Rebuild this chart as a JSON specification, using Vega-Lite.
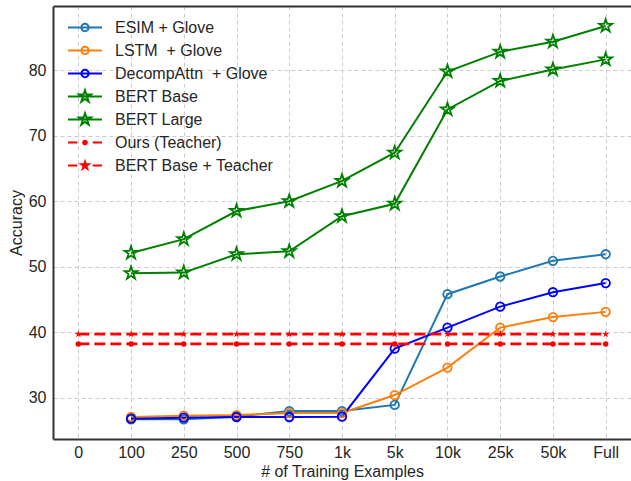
{
  "$schema": "https://vega.github.io/schema/vega-lite/v6.json",
  "autosize": "none",
  "width": 578,
  "height": 433,
  "padding": {"left": 53, "top": 6, "right": 0, "bottom": 42},
  "background": "white",
  "config": {
    "font": "Liberation Sans",
    "view": {"stroke": null},
    "axis": {
      "labelFont": "Liberation Sans",
      "titleFont": "Liberation Sans",
      "labelFontSize": 16,
      "titleFontSize": 16,
      "titleFontWeight": "normal",
      "labelColor": "#262626",
      "titleColor": "#262626",
      "ticks": false,
      "domainColor": "#333333",
      "domainWidth": 2,
      "gridColor": "#cccccc",
      "gridDash": [4, 3],
      "gridWidth": 1
    },
    "legend": {
      "orient": "none",
      "legendX": 14,
      "legendY": 10,
      "padding": 0,
      "clipHeight": 23,
      "rowPadding": 0,
      "symbolSize": 1156,
      "symbolStrokeWidth": 2,
      "labelOffset": 12,
      "labelFont": "Liberation Sans",
      "labelFontSize": 16,
      "labelColor": "#262626",
      "labelLimit": 400
    }
  },
  "data": {
    "values": [
      {"model": "ESIM + Glove", "x": "100", "acc": 26.7},
      {"model": "ESIM + Glove", "x": "250", "acc": 26.7},
      {"model": "ESIM + Glove", "x": "500", "acc": 27.1},
      {"model": "ESIM + Glove", "x": "750", "acc": 27.95},
      {"model": "ESIM + Glove", "x": "1k", "acc": 27.95},
      {"model": "ESIM + Glove", "x": "5k", "acc": 28.9},
      {"model": "ESIM + Glove", "x": "10k", "acc": 45.8},
      {"model": "ESIM + Glove", "x": "25k", "acc": 48.5},
      {"model": "ESIM + Glove", "x": "50k", "acc": 50.9},
      {"model": "ESIM + Glove", "x": "Full", "acc": 51.9},
      {"model": "LSTM \u00a0+ Glove", "x": "100", "acc": 27.05},
      {"model": "LSTM \u00a0+ Glove", "x": "250", "acc": 27.25},
      {"model": "LSTM \u00a0+ Glove", "x": "500", "acc": 27.35},
      {"model": "LSTM \u00a0+ Glove", "x": "750", "acc": 27.65},
      {"model": "LSTM \u00a0+ Glove", "x": "1k", "acc": 27.65},
      {"model": "LSTM \u00a0+ Glove", "x": "5k", "acc": 30.4},
      {"model": "LSTM \u00a0+ Glove", "x": "10k", "acc": 34.6},
      {"model": "LSTM \u00a0+ Glove", "x": "25k", "acc": 40.7},
      {"model": "LSTM \u00a0+ Glove", "x": "50k", "acc": 42.3},
      {"model": "LSTM \u00a0+ Glove", "x": "Full", "acc": 43.1},
      {"model": "DecompAttn \u00a0+ Glove", "x": "100", "acc": 26.8},
      {"model": "DecompAttn \u00a0+ Glove", "x": "250", "acc": 26.95},
      {"model": "DecompAttn \u00a0+ Glove", "x": "500", "acc": 27.05},
      {"model": "DecompAttn \u00a0+ Glove", "x": "750", "acc": 27.05},
      {"model": "DecompAttn \u00a0+ Glove", "x": "1k", "acc": 27.1},
      {"model": "DecompAttn \u00a0+ Glove", "x": "5k", "acc": 37.5},
      {"model": "DecompAttn \u00a0+ Glove", "x": "10k", "acc": 40.7},
      {"model": "DecompAttn \u00a0+ Glove", "x": "25k", "acc": 43.9},
      {"model": "DecompAttn \u00a0+ Glove", "x": "50k", "acc": 46.1},
      {"model": "DecompAttn \u00a0+ Glove", "x": "Full", "acc": 47.5},
      {"model": "BERT Base", "x": "100", "acc": 49.0},
      {"model": "BERT Base", "x": "250", "acc": 49.1},
      {"model": "BERT Base", "x": "500", "acc": 51.9},
      {"model": "BERT Base", "x": "750", "acc": 52.35},
      {"model": "BERT Base", "x": "1k", "acc": 57.7},
      {"model": "BERT Base", "x": "5k", "acc": 59.6},
      {"model": "BERT Base", "x": "10k", "acc": 74.0},
      {"model": "BERT Base", "x": "25k", "acc": 78.35},
      {"model": "BERT Base", "x": "50k", "acc": 80.1},
      {"model": "BERT Base", "x": "Full", "acc": 81.65},
      {"model": "BERT Large", "x": "100", "acc": 52.1},
      {"model": "BERT Large", "x": "250", "acc": 54.2},
      {"model": "BERT Large", "x": "500", "acc": 58.5},
      {"model": "BERT Large", "x": "750", "acc": 60.0},
      {"model": "BERT Large", "x": "1k", "acc": 63.1},
      {"model": "BERT Large", "x": "5k", "acc": 67.4},
      {"model": "BERT Large", "x": "10k", "acc": 79.8},
      {"model": "BERT Large", "x": "25k", "acc": 82.8},
      {"model": "BERT Large", "x": "50k", "acc": 84.35},
      {"model": "BERT Large", "x": "Full", "acc": 86.75},
      {"model": "Ours (Teacher)", "x": "0", "acc": 38.2},
      {"model": "Ours (Teacher)", "x": "100", "acc": 38.2},
      {"model": "Ours (Teacher)", "x": "250", "acc": 38.2},
      {"model": "Ours (Teacher)", "x": "500", "acc": 38.2},
      {"model": "Ours (Teacher)", "x": "750", "acc": 38.2},
      {"model": "Ours (Teacher)", "x": "1k", "acc": 38.2},
      {"model": "Ours (Teacher)", "x": "5k", "acc": 38.2},
      {"model": "Ours (Teacher)", "x": "10k", "acc": 38.2},
      {"model": "Ours (Teacher)", "x": "25k", "acc": 38.2},
      {"model": "Ours (Teacher)", "x": "50k", "acc": 38.2},
      {"model": "Ours (Teacher)", "x": "Full", "acc": 38.2},
      {"model": "BERT Base + Teacher", "x": "0", "acc": 39.7},
      {"model": "BERT Base + Teacher", "x": "100", "acc": 39.7},
      {"model": "BERT Base + Teacher", "x": "250", "acc": 39.7},
      {"model": "BERT Base + Teacher", "x": "500", "acc": 39.7},
      {"model": "BERT Base + Teacher", "x": "750", "acc": 39.7},
      {"model": "BERT Base + Teacher", "x": "1k", "acc": 39.7},
      {"model": "BERT Base + Teacher", "x": "5k", "acc": 39.7},
      {"model": "BERT Base + Teacher", "x": "10k", "acc": 39.7},
      {"model": "BERT Base + Teacher", "x": "25k", "acc": 39.7},
      {"model": "BERT Base + Teacher", "x": "50k", "acc": 39.7},
      {"model": "BERT Base + Teacher", "x": "Full", "acc": 39.7}
    ]
  },
  "resolve": {"axis": {"x": "independent"}},
  "layer": [
    {
      "encoding": {
        "x": {
          "field": "x", "type": "ordinal",
          "scale": {"type": "point", "domain": ["0","100","250","500","750","1k","5k","10k","25k","50k","Full"], "padding": 0.48},
          "axis": {"orient": "bottom", "labelAngle": 0, "labelPadding": 5, "title": "# of Training Examples", "titlePadding": 3, "grid": true, "domain": true}
        },
        "y": {
          "field": "acc", "type": "quantitative",
          "scale": {"domain": [23.69, 89.8], "nice": false, "zero": false},
          "axis": {"values": [30, 40, 50, 60, 70, 80], "title": "Accuracy", "labelPadding": 7, "titlePadding": 4, "grid": true, "domain": true}
        }
      },
      "layer": [
        {
          "transform": [{"filter": "datum.model != 'Ours (Teacher)' && datum.model != 'BERT Base + Teacher'"}],
          "mark": {"type": "line", "strokeWidth": 2},
          "encoding": {
            "color": {"field": "model", "type": "nominal", "legend": null,
              "scale": {"domain": ["ESIM + Glove", "LSTM \u00a0+ Glove", "DecompAttn \u00a0+ Glove", "BERT Base", "BERT Large"],
                        "range": ["#1f77b4", "#ff7f0e", "#0000ff", "#008000", "#008000"]}}
          }
        },
        {
          "transform": [{"filter": "datum.model == 'ESIM + Glove' || datum.model == 'LSTM \u00a0+ Glove' || datum.model == 'DecompAttn \u00a0+ Glove'"}],
          "mark": {"type": "point", "shape": "circle", "filled": false, "size": 72, "strokeWidth": 1.8, "opacity": 1},
          "encoding": {
            "color": {"field": "model", "type": "nominal", "legend": null,
              "scale": {"domain": ["ESIM + Glove", "LSTM \u00a0+ Glove", "DecompAttn \u00a0+ Glove", "BERT Base", "BERT Large"],
                        "range": ["#1f77b4", "#ff7f0e", "#0000ff", "#008000", "#008000"]}}
          }
        },
        {
          "transform": [{"filter": "datum.model == 'BERT Base' || datum.model == 'BERT Large'"}],
          "mark": {"type": "point", "shape": "M0,-1L0.2245,-0.309L0.951,-0.309L0.363,0.118L0.588,0.809L0,0.382L-0.588,0.809L-0.363,0.118L-0.951,-0.309L-0.2245,-0.309Z", "filled": false, "size": 185, "strokeWidth": 1.8, "color": "#008000", "opacity": 1}
        },
        {
          "transform": [{"filter": "datum.model == 'Ours (Teacher)' || datum.model == 'BERT Base + Teacher'"}],
          "mark": {"type": "line", "strokeWidth": 2.8, "strokeDash": [11, 5], "color": "#ff0000"},
          "encoding": {"detail": {"field": "model", "type": "nominal"}}
        },
        {
          "transform": [{"filter": "datum.model == 'Ours (Teacher)'"}],
          "mark": {"type": "point", "shape": "circle", "filled": true, "size": 30, "color": "#ff0000", "opacity": 1}
        },
        {
          "transform": [{"filter": "datum.model == 'BERT Base + Teacher'"}],
          "mark": {"type": "point", "shape": "M0,-1L0.2245,-0.309L0.951,-0.309L0.363,0.118L0.588,0.809L0,0.382L-0.588,0.809L-0.363,0.118L-0.951,-0.309L-0.2245,-0.309Z", "filled": true, "size": 60, "color": "#ff0000", "opacity": 1}
        }
      ]
    },
    {
      "transform": [{"filter": "false"}],
      "mark": {"type": "point", "opacity": 1},
      "encoding": {
        "x": {
          "field": "x", "type": "ordinal",
          "scale": {"type": "point", "domain": ["0","100","250","500","750","1k","5k","10k","25k","50k","Full"], "padding": 0.48},
          "axis": {"orient": "top", "labels": false, "ticks": false, "grid": false, "domain": true, "title": null}
        },
        "stroke": {"field": "model", "type": "nominal", "title": null,
          "scale": {"domain": ["ESIM + Glove", "LSTM \u00a0+ Glove", "DecompAttn \u00a0+ Glove", "BERT Base", "BERT Large", "Ours (Teacher)", "BERT Base + Teacher"],
                    "range": ["#1f77b4", "#ff7f0e", "#0000ff", "#008000", "#008000", "#ff0000", "#ff0000"]}},
        "fill": {"field": "model", "type": "nominal", "title": null,
          "scale": {"domain": ["ESIM + Glove", "LSTM \u00a0+ Glove", "DecompAttn \u00a0+ Glove", "BERT Base", "BERT Large", "Ours (Teacher)", "BERT Base + Teacher"],
                    "range": ["#ffffff", "#ffffff", "#ffffff", "#ffffff", "#ffffff", "#ff0000", "#ff0000"]}},
        "shape": {"field": "model", "type": "nominal", "title": null,
          "scale": {"domain": ["ESIM + Glove", "LSTM \u00a0+ Glove", "DecompAttn \u00a0+ Glove", "BERT Base", "BERT Large", "Ours (Teacher)", "BERT Base + Teacher"],
                    "range": [
                      "M-1,0L1,0M0.215,0A0.215,0.215,0,1,1,-0.215,0A0.215,0.215,0,1,1,0.215,0Z",
                      "M-1,0L1,0M0.215,0A0.215,0.215,0,1,1,-0.215,0A0.215,0.215,0,1,1,0.215,0Z",
                      "M-1,0L1,0M0.215,0A0.215,0.215,0,1,1,-0.215,0A0.215,0.215,0,1,1,0.215,0Z",
                      "M-1,0L1,0M0,-0.37L0.0831,-0.1143L0.3519,-0.1143L0.1343,0.0437L0.2176,0.2993L0,0.1413L-0.2176,0.2993L-0.1343,0.0437L-0.3519,-0.1143L-0.0831,-0.1143Z",
                      "M-1,0L1,0M0,-0.37L0.0831,-0.1143L0.3519,-0.1143L0.1343,0.0437L0.2176,0.2993L0,0.1413L-0.2176,0.2993L-0.1343,0.0437L-0.3519,-0.1143L-0.0831,-0.1143Z",
                      "M-1,0L-0.45,0M0.45,0L1,0M0.11,0A0.11,0.11,0,1,1,-0.11,0A0.11,0.11,0,1,1,0.11,0Z",
                      "M-1,0L-0.45,0M0.45,0L1,0M0,-0.22L0.0494,-0.068L0.2092,-0.068L0.0799,0.026L0.1294,0.178L0,0.084L-0.1294,0.178L-0.0799,0.026L-0.2092,-0.068L-0.0494,-0.068Z"
                    ]}}
      }
    }
  ]
}
